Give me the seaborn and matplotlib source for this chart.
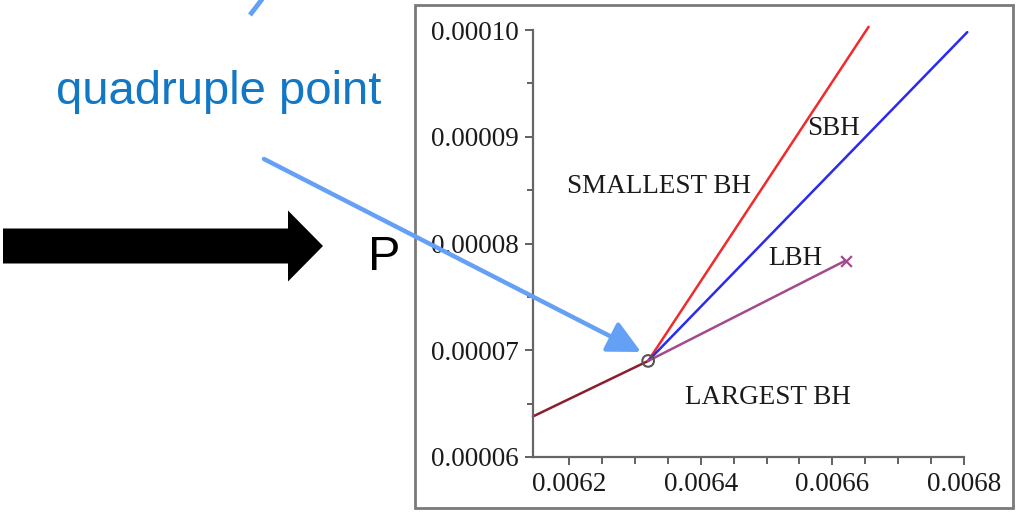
import numpy as np
import pandas as pd
import matplotlib
matplotlib.use("Agg")
import matplotlib.pyplot as plt
from matplotlib.patches import FancyArrow, Rectangle
from matplotlib.ticker import FixedLocator, MultipleLocator
import seaborn as sns

# ---------------- data ----------------
qp_x = 0.00632
qp_y = 0.0000690

brown_x = [0.006145, 0.00632]
brown_y = [0.0000638, 0.0000690]
red_x = [0.00632, 0.006655]
red_y = [0.0000690, 0.0001003]
blue_x = [0.00632, 0.006805]
blue_y = [0.0000690, 0.0000998]
purple_x = [0.00632, 0.00662]
purple_y = [0.0000690, 0.0000784]

curve_names = ["coex", "red", "blue", "purple"]
curve_colors = ["#8c1c30", "#f22a2a", "#2a2af0", "#a24a8c"]

x_ticks = [0.0062, 0.0064, 0.0066, 0.0068]
x_tick_labels = ["0.0062", "0.0064", "0.0066", "0.0068"]
y_ticks = [0.00006, 0.00007, 0.00008, 0.00009, 0.00010]
y_tick_labels = ["0.00006", "0.00007", "0.00008", "0.00009", "0.00010"]

region_labels = ["SMALLEST BH", "SBH", "LBH", "LARGEST BH"]
region_x = [0.006337, 0.006601, 0.006543, 0.006502]
region_y = [0.00008535, 0.0000908, 0.0000786, 0.00006554]

# ---------------- figure ----------------
sns.set_theme(style="white")
plt.rcParams["font.family"] = ["Liberation Serif", "DejaVu Serif"]

W, H = 1017, 512
fig = plt.figure(figsize=(W / 100, H / 100), dpi=100)
fig.patch.set_facecolor("white")

# main axes (pixel box 533..964 x 30..457)
ax = fig.add_axes([533 / W, (H - 457) / H, (964 - 533) / W, (457 - 30) / H])
ax.set_facecolor("none")

df = pd.concat([
    pd.DataFrame({"x": brown_x, "y": brown_y, "curve": curve_names[0]}),
    pd.DataFrame({"x": red_x, "y": red_y, "curve": curve_names[1]}),
    pd.DataFrame({"x": blue_x, "y": blue_y, "curve": curve_names[2]}),
    pd.DataFrame({"x": purple_x, "y": purple_y, "curve": curve_names[3]}),
], ignore_index=True)

sns.lineplot(data=df, x="x", y="y", hue="curve", palette=dict(zip(curve_names, curve_colors)),
             sort=False, estimator=None, legend=False, linewidth=1.8, ax=ax)
for ln in ax.lines:
    ln.set_clip_on(False)

# quadruple point marker and end marker
sns.scatterplot(x=[qp_x], y=[qp_y], marker="o", s=70, facecolors="none",
                edgecolors="#555555", linewidth=1.5, ax=ax, zorder=5)
ax.scatter([purple_x[-1]], [purple_y[-1]], marker="x", s=60, color=curve_colors[3],
           linewidths=1.6, zorder=5, clip_on=False)

ax.set_xlim(0.006145, 0.0068)
ax.set_ylim(0.00006, 0.00010)
ax.xaxis.set_major_locator(FixedLocator(x_ticks))
ax.set_xticklabels(x_tick_labels)
ax.yaxis.set_major_locator(FixedLocator(y_ticks))
ax.set_yticklabels(y_tick_labels)
ax.minorticks_on()
x_minor = np.linspace(x_ticks[0], x_ticks[-1], 13)
y_minor = np.linspace(y_ticks[0], y_ticks[-1], 9)
ax.xaxis.set_minor_locator(FixedLocator(x_minor))
ax.yaxis.set_minor_locator(FixedLocator(y_minor))
ax.set_xlabel("")
ax.set_ylabel("")

for s in ["top", "right"]:
    ax.spines[s].set_visible(False)
for s in ["left", "bottom"]:
    ax.spines[s].set_color("#666666")
    ax.spines[s].set_linewidth(1.6)

ax.tick_params(axis="both", which="both", direction="out", color="#555555",
               width=1.3, labelsize=19.5, labelcolor="#1a1a1a",
               bottom=True, left=True, top=False, right=False)
ax.tick_params(axis="x", which="major", length=6, pad=5)
ax.tick_params(axis="x", which="minor", length=5)
ax.tick_params(axis="y", which="major", length=6, pad=4)
ax.tick_params(axis="y", which="minor", length=4)

for lab, xx, yy in zip(region_labels, region_x, region_y):
    ax.text(xx, yy, lab, ha="center", va="center", fontsize=19.5, color="#1a1a1a")

# ---------------- overlay (pixel coordinates) ----------------
ov = fig.add_axes([0, 0, 1, 1], zorder=3)
ov.set_xlim(0, W)
ov.set_ylim(H, 0)
ov.axis("off")
ov.patch.set_visible(False)

ov.add_patch(Rectangle((415, 5), 598, 503, fill=False, edgecolor="#7a7a7a", linewidth=2))

ov.add_patch(FancyArrow(3, 246, 320, 0, width=35, head_width=71, head_length=35,
                        length_includes_head=True, color="black", linewidth=0))

ov.text(368, 258, "P", fontsize=35, family=["Liberation Sans", "DejaVu Sans"],
        ha="left", va="center", color="black")

ov.text(219, 92, "quadruple point", fontsize=34, family=["Liberation Sans", "DejaVu Sans"],
        ha="center", va="center", color="#1277c4")

arrow_blue = "#64a0f5"
ov.plot([250, 263], [15, -2], color=arrow_blue, linewidth=3.5, solid_capstyle="butt")
ov.annotate("", xy=(641, 352), xytext=(264, 159),
            arrowprops=dict(arrowstyle="-|>,head_length=1.0,head_width=0.5",
                            color=arrow_blue, lw=3.2, mutation_scale=20,
                            shrinkA=0, shrinkB=0))

fig.savefig("out.png", dpi=100)
